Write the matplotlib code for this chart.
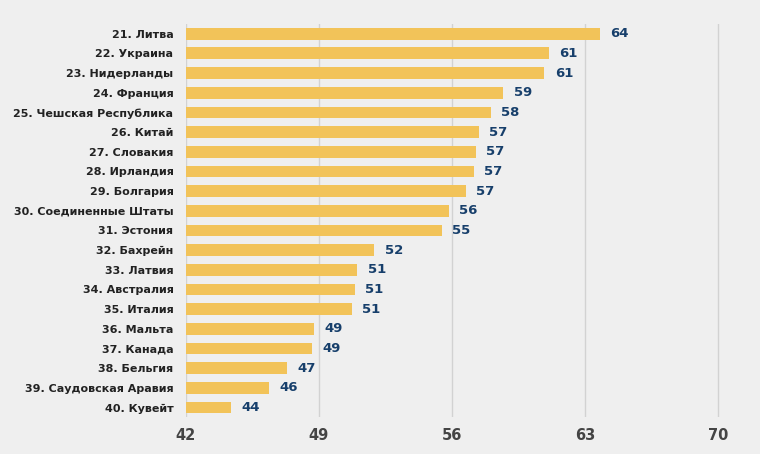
import matplotlib.pyplot as plt

countries = ["21. Литва", "22. Украина", "23. Нидерланды", "24. Франция",
             "25. Чешская Республика", "26. Китай", "27. Словакия", "28. Ирландия",
             "29. Болгария", "30. Соединенные Штаты", "31. Эстония", "32. Бахрейн",
             "33. Латвия", "34. Австралия", "35. Италия", "36. Мальта",
             "37. Канада", "38. Бельгия", "39. Саудовская Аравия", "40. Кувейт"]
scores = [63.8, 61.1, 60.86, 58.7, 58.04, 57.42, 57.25, 57.14, 56.72, 55.83,
          55.45, 51.91, 51.02, 50.88, 50.74, 48.72, 48.61, 47.32, 46.35, 44.39]
shown = [64, 61, 61, 59, 58, 57, 57, 57, 57, 56, 55, 52, 51, 51, 51, 49, 49, 47, 46, 44]
ticks = [42, 49, 56, 63, 70]

bg = "#efefef"
plt.rcParams['font.family'] = ['DejaVu Sans']

fig = plt.figure(figsize=(7.6, 4.54), dpi=100, facecolor=bg)
ax = fig.add_axes([0.2447, 0.0808, 0.7375, 0.8666])
ax.set_facecolor(bg)

y = list(range(len(countries)))
ax.barh(y, [s - 42 for s in scores], left=42, height=0.6, color="#f2c359", zorder=3)
for yi, s, t in zip(y, scores, shown):
    ax.text(s + 0.55, yi, str(t), va="center", ha="left", fontsize=9.5,
            fontweight="bold", color="#173f6b", zorder=4)

ax.set_xlim(42, 71.5)
ax.set_ylim(19.5, -0.5)
ax.set_xticks(ticks)
ax.set_xticklabels([str(t) for t in ticks], fontsize=10.5, fontweight="bold", color="#444444")
ax.set_yticks(y)
ax.set_yticklabels(countries, fontsize=8.0, fontweight="bold", color="#222222")
ax.tick_params(axis="both", length=0)
ax.tick_params(axis="y", pad=9)
ax.tick_params(axis="x", pad=8)
ax.grid(axis="x", color="#d2d2d2", linewidth=1, zorder=0)
for sp in ax.spines.values():
    sp.set_visible(False)

fig.savefig("out.png", dpi=100, facecolor=bg)
